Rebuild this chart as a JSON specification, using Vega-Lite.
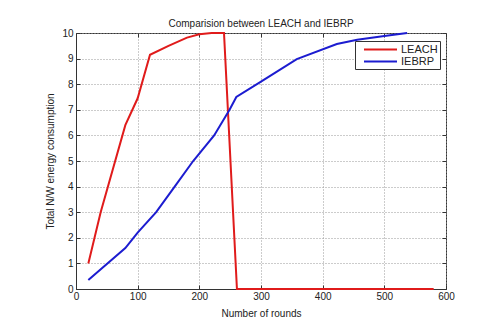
{
  "$schema": "https://vega.github.io/schema/vega-lite/v6.json",
  "width": 370,
  "height": 256,
  "autosize": {"type": "none"},
  "padding": {"left": 76, "top": 33, "right": 37, "bottom": 33},
  "background": "white",
  "title": {"text": "Comparision between LEACH and IEBRP", "font": "Liberation Sans", "fontSize": 10, "fontWeight": "normal", "color": "#222", "offset": -1},
  "config": {
    "view": {"stroke": "#333", "strokeWidth": 1},
    "axis": {"labelFont": "Liberation Sans", "titleFont": "Liberation Sans", "labelFontSize": 10, "titleFontSize": 10, "titleFontWeight": "normal", "labelColor": "#222", "titleColor": "#222", "domainColor": "#333", "tickColor": "#333", "gridColor": "#999", "gridDash": [1, 2], "gridOpacity": 1, "labelOverlap": false, "labelFlush": false}
  },
  "data": {"values": [
    {"series": "LEACH", "rounds": 20, "energy": 1},
    {"series": "LEACH", "rounds": 40, "energy": 3},
    {"series": "LEACH", "rounds": 80, "energy": 6.4},
    {"series": "LEACH", "rounds": 100, "energy": 7.45},
    {"series": "LEACH", "rounds": 120, "energy": 9.15},
    {"series": "LEACH", "rounds": 150, "energy": 9.5},
    {"series": "LEACH", "rounds": 180, "energy": 9.82},
    {"series": "LEACH", "rounds": 200, "energy": 9.95},
    {"series": "LEACH", "rounds": 220, "energy": 10},
    {"series": "LEACH", "rounds": 240, "energy": 10},
    {"series": "LEACH", "rounds": 261, "energy": 0},
    {"series": "LEACH", "rounds": 580, "energy": 0},
    {"series": "IEBRP", "rounds": 20, "energy": 0.35},
    {"series": "IEBRP", "rounds": 80, "energy": 1.6},
    {"series": "IEBRP", "rounds": 100, "energy": 2.2},
    {"series": "IEBRP", "rounds": 130, "energy": 3},
    {"series": "IEBRP", "rounds": 160, "energy": 4},
    {"series": "IEBRP", "rounds": 190, "energy": 5},
    {"series": "IEBRP", "rounds": 224, "energy": 6},
    {"series": "IEBRP", "rounds": 249, "energy": 7},
    {"series": "IEBRP", "rounds": 260, "energy": 7.5},
    {"series": "IEBRP", "rounds": 300, "energy": 8.1},
    {"series": "IEBRP", "rounds": 358, "energy": 8.98},
    {"series": "IEBRP", "rounds": 423, "energy": 9.57},
    {"series": "IEBRP", "rounds": 456, "energy": 9.74},
    {"series": "IEBRP", "rounds": 500, "energy": 9.88},
    {"series": "IEBRP", "rounds": 537, "energy": 10}
  ]},
  "encoding": {
    "x": {"field": "rounds", "type": "quantitative", "scale": {"domain": [0, 600], "nice": false}},
    "y": {"field": "energy", "type": "quantitative", "scale": {"domain": [0, 10], "nice": false}}
  },
  "layer": [
    {
      "mark": {"type": "line", "strokeWidth": 2},
      "encoding": {
        "x": {"field": "rounds", "type": "quantitative", "axis": {"title": "Number of rounds", "values": [0, 100, 200, 300, 400, 500, 600], "tickSize": -4, "labelPadding": 6, "titlePadding": 7}},
        "y": {"field": "energy", "type": "quantitative", "axis": {"title": "Total  N/W energy consumption", "values": [0, 1, 2, 3, 4, 5, 6, 7, 8, 9, 10], "tickSize": -4, "labelPadding": 7, "titlePadding": 6}},
        "color": {"field": "series", "type": "nominal", "scale": {"domain": ["LEACH", "IEBRP"], "range": ["#e01b1b", "#1c1cd0"]},
          "legend": {"title": null, "orient": "none", "legendX": 279, "legendY": 8, "symbolType": "M-3,0L3,0", "symbolSize": 121, "symbolStrokeWidth": 2, "symbolFillColor": "transparent", "labelFont": "Liberation Sans", "labelFontSize": 11, "labelColor": "#222", "labelOffset": 14, "strokeColor": "#333", "fillColor": "white", "padding": 2, "rowPadding": 0, "symbolOffset": 17}}
      }
    },
    {
      "mark": {"type": "line", "opacity": 0},
      "encoding": {
        "x": {"field": "rounds", "type": "quantitative", "axis": {"orient": "top", "values": [0, 100, 200, 300, 400, 500, 600], "labels": false, "title": null, "grid": false, "tickSize": -4, "domain": false}},
        "y": {"field": "energy", "type": "quantitative", "axis": {"orient": "right", "values": [0, 1, 2, 3, 4, 5, 6, 7, 8, 9, 10], "labels": false, "title": null, "grid": false, "tickSize": -4, "domain": false}},
        "detail": {"field": "series"}
      }
    }
  ],
  "resolve": {"axis": {"x": "independent", "y": "independent"}}
}
